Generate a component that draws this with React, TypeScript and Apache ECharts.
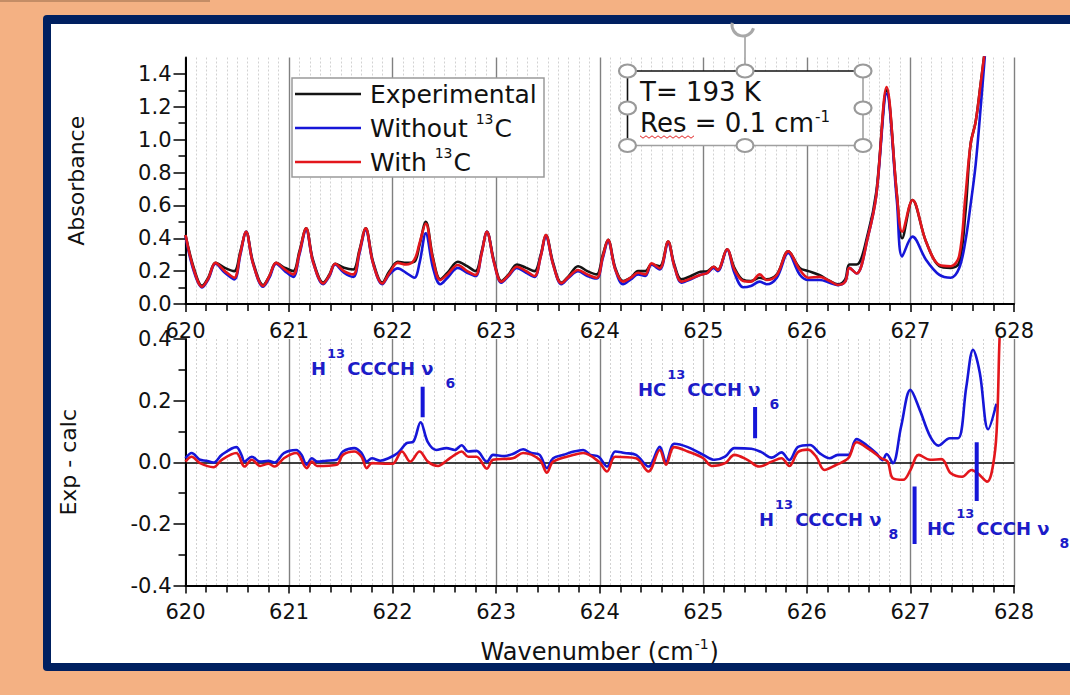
import React, { useEffect, useRef } from "react";
import * as echarts from "echarts";

const FONT = "'DejaVu Sans', 'Liberation Sans', sans-serif";
const BLACK = "#141414";
const BLUE = "#1616d8";
const RED = "#e3161c";
const ANN = "#1c1cc8";

// ---- top panel: absorbance spectra (wavenumber grid shared by the 3 traces)
const topX = [
  620.0, 620.08, 620.16, 620.22, 620.29, 620.38, 620.47, 620.53, 620.585, 620.65,
  620.75, 620.81, 620.875, 620.96, 621.04, 621.1, 621.165, 621.23, 621.33, 621.39,
  621.445, 621.53, 621.62, 621.68, 621.74, 621.81, 621.9, 621.97, 622.05, 622.13,
  622.21, 622.26, 622.32, 622.39, 622.46, 622.53, 622.63, 622.72, 622.8, 622.86,
  622.91, 622.98, 623.05, 623.12, 623.2, 623.29, 623.37, 623.43, 623.48, 623.55,
  623.63, 623.7, 623.79, 623.88, 623.97, 624.03, 624.08, 624.15, 624.225, 624.3,
  624.37, 624.44, 624.5, 624.58, 624.66, 624.72, 624.79, 624.88, 624.97, 625.04,
  625.1, 625.14, 625.23, 625.3, 625.385, 625.46, 625.545, 625.61, 625.71, 625.82,
  625.93, 626.015, 626.125, 626.22, 626.3, 626.37, 626.41, 626.48, 626.59, 626.67,
  626.77, 626.87, 626.92, 627.02, 627.15, 627.28, 627.39, 627.47, 627.53, 627.58,
  627.63, 627.68, 627.73,
];
const experimental = [
  0.42, 0.22, 0.11, 0.16, 0.25, 0.22, 0.2, 0.32, 0.44, 0.26,
  0.115, 0.17, 0.25, 0.22, 0.2, 0.32, 0.46, 0.27, 0.13, 0.18,
  0.245, 0.22, 0.21, 0.33, 0.46, 0.26, 0.13, 0.2, 0.257, 0.25,
  0.257, 0.36, 0.5, 0.28, 0.15, 0.19, 0.257, 0.23, 0.2, 0.32,
  0.44, 0.26, 0.14, 0.18, 0.24, 0.22, 0.2, 0.3, 0.42, 0.25,
  0.13, 0.17, 0.23, 0.2, 0.18, 0.3, 0.39, 0.22, 0.14, 0.16,
  0.2, 0.2, 0.24, 0.23, 0.38, 0.24, 0.15, 0.17, 0.196, 0.2,
  0.227, 0.207, 0.333, 0.22, 0.146, 0.14, 0.16, 0.15, 0.18, 0.32,
  0.22, 0.2, 0.175, 0.14, 0.12, 0.15, 0.24, 0.24, 0.43, 0.68,
  1.3, 0.66, 0.4, 0.633, 0.38, 0.23, 0.22, 0.25, 0.55, 0.97,
  1.11, 1.35, 1.6,
];
const without13C = [
  0.41, 0.2, 0.1, 0.15, 0.245, 0.19, 0.15, 0.3, 0.44, 0.25,
  0.105, 0.16, 0.245, 0.2, 0.165, 0.3, 0.45, 0.26, 0.12, 0.17,
  0.24, 0.19, 0.165, 0.31, 0.45, 0.25, 0.12, 0.18, 0.217, 0.19,
  0.16, 0.25, 0.43, 0.22, 0.12, 0.16, 0.22, 0.19, 0.17, 0.31,
  0.44, 0.25, 0.13, 0.17, 0.22, 0.19, 0.165, 0.29, 0.41, 0.24,
  0.12, 0.16, 0.2, 0.17, 0.155, 0.28, 0.38, 0.21, 0.12, 0.15,
  0.18, 0.17, 0.24, 0.21, 0.37, 0.23, 0.13, 0.15, 0.177, 0.19,
  0.22, 0.2, 0.33, 0.19, 0.102, 0.11, 0.136, 0.12, 0.16, 0.31,
  0.18, 0.146, 0.146, 0.13, 0.115, 0.136, 0.22, 0.186, 0.41, 0.66,
  1.28, 0.62, 0.29, 0.41, 0.27, 0.177, 0.16, 0.217, 0.38, 0.6,
  0.85, 1.21, 1.6,
];
const with13C = [
  0.42, 0.21, 0.105, 0.155, 0.25, 0.2, 0.16, 0.31, 0.44, 0.25,
  0.11, 0.17, 0.25, 0.21, 0.18, 0.31, 0.46, 0.26, 0.125, 0.175,
  0.245, 0.2, 0.18, 0.32, 0.46, 0.25, 0.125, 0.19, 0.25, 0.24,
  0.27, 0.37, 0.49, 0.27, 0.145, 0.18, 0.237, 0.2, 0.177, 0.31,
  0.44, 0.25, 0.135, 0.175, 0.227, 0.2, 0.17, 0.29, 0.42, 0.24,
  0.126, 0.165, 0.207, 0.18, 0.16, 0.29, 0.39, 0.21, 0.136, 0.16,
  0.19, 0.18, 0.247, 0.217, 0.38, 0.23, 0.136, 0.155, 0.177, 0.19,
  0.227, 0.207, 0.333, 0.21, 0.14, 0.136, 0.18, 0.146, 0.177, 0.32,
  0.21, 0.16, 0.165, 0.14, 0.116, 0.136, 0.22, 0.186, 0.41, 0.66,
  1.32, 0.66, 0.44, 0.633, 0.38, 0.237, 0.23, 0.29, 0.65, 0.97,
  1.11, 1.35, 1.6,
];

// ---- bottom panel: residuals (exp - calc) as [wavenumber, value]
const residualWithout: [number, number][] = [
  [620.0, 0.013], [620.06, 0.03], [620.14, 0.008], [620.2, 0.005], [620.27, -0.001],
  [620.35, 0.024], [620.49, 0.049], [620.54, 0.024], [620.57, 0.002], [620.64, 0.018],
  [620.72, 0.002], [620.8, 0.005], [620.86, -0.001], [620.95, 0.03], [621.07, 0.04],
  [621.12, 0.024], [621.17, -0.008], [621.22, 0.013], [621.27, 0.002], [621.36, 0.005],
  [621.46, 0.008], [621.52, 0.035], [621.63, 0.046], [621.7, 0.03], [621.75, 0.002],
  [621.8, 0.013], [621.88, 0.005], [621.96, 0.013], [622.05, 0.03], [622.135, 0.062],
  [622.2, 0.067], [622.27, 0.13], [622.34, 0.065], [622.42, 0.04], [622.52, 0.046],
  [622.6, 0.04], [622.666, 0.055], [622.73, 0.035], [622.81, 0.037], [622.91, 0.002],
  [622.97, 0.024], [623.08, 0.02], [623.16, 0.027], [623.26, 0.042], [623.34, 0.03],
  [623.42, 0.024], [623.49, -0.019], [623.55, 0.013], [623.65, 0.024], [623.75, 0.035],
  [623.84, 0.04], [623.91, 0.024], [623.99, 0.018], [624.07, -0.014], [624.15, 0.035],
  [624.24, 0.03], [624.35, 0.024], [624.47, -0.014], [624.58, 0.05], [624.64, 0.002],
  [624.72, 0.06], [624.85, 0.049], [625.0, 0.024], [625.11, 0.008], [625.21, 0.018],
  [625.3, 0.046], [625.465, 0.044], [625.56, 0.033], [625.66, 0.015], [625.755, 0.032],
  [625.83, 0.007], [625.915, 0.05], [626.03, 0.056], [626.125, 0.029], [626.22, 0.013],
  [626.3, 0.024], [626.4, 0.024], [626.48, 0.075], [626.575, 0.056], [626.67, 0.029],
  [626.73, 0.007], [626.77, 0.027], [626.83, -0.003], [626.91, 0.116], [627.0, 0.235],
  [627.09, 0.17], [627.19, 0.084], [627.27, 0.054], [627.38, 0.078], [627.46, 0.078],
  [627.54, 0.246], [627.605, 0.365], [627.67, 0.29], [627.75, 0.107], [627.83, 0.19],
];
const residualWith: [number, number][] = [
  [620.0, 0.002], [620.06, 0.018], [620.14, -0.003], [620.27, -0.016], [620.35, 0.008],
  [620.49, 0.03], [620.57, -0.014], [620.64, 0.008], [620.72, -0.012], [620.8, -0.005],
  [620.86, -0.014], [620.95, 0.013], [621.07, 0.03], [621.17, -0.019], [621.22, 0.002],
  [621.27, -0.012], [621.46, -0.008], [621.52, 0.024], [621.63, 0.035], [621.7, 0.018],
  [621.75, -0.019], [621.8, -0.003], [621.96, -0.005], [622.0, -0.005], [622.09, 0.035],
  [622.17, 0.002], [622.26, 0.035], [622.34, 0.002], [622.44, -0.012], [622.52, 0.005],
  [622.6, 0.024], [622.666, 0.035], [622.73, 0.018], [622.81, 0.018], [622.91, -0.021],
  [622.97, 0.008], [623.16, 0.013], [623.26, 0.03], [623.42, 0.008], [623.49, -0.034],
  [623.55, 0.002], [623.75, 0.024], [623.84, 0.03], [623.99, 0.002], [624.07, -0.03],
  [624.15, 0.018], [624.35, 0.013], [624.47, -0.03], [624.58, 0.04], [624.64, -0.008],
  [624.72, 0.049], [624.85, 0.035], [625.0, 0.013], [625.08, -0.012], [625.21, -0.003],
  [625.3, 0.024], [625.43, 0.007], [625.54, -0.014], [625.66, 0.002], [625.755, 0.013],
  [625.83, -0.012], [625.915, 0.033], [626.01, 0.041], [626.09, 0.018], [626.17, -0.025],
  [626.28, -0.009], [626.4, 0.013], [626.48, 0.065], [626.61, 0.04], [626.72, 0.013],
  [626.78, 0.002], [626.83, -0.052], [626.93, -0.057], [627.0, -0.025], [627.08, 0.024],
  [627.19, 0.008], [627.3, 0.01], [627.39, -0.036], [627.5, -0.047], [627.59, -0.025],
  [627.65, -0.036], [627.74, -0.063], [627.81, 0.018], [627.84, 0.159], [627.86, 0.397],
  [627.88, 0.5],
];

// ---- assignment markers (vertical bars in the residual panel)
const markerX = [622.29, 625.5, 627.04, 627.64];
const markerTop = [0.245, 0.179, -0.079, 0.065];
const markerBottom = [0.146, 0.078, -0.265, -0.126];
const markerLabels: [string, string, string, string][] = [
  ["H", "13", "CCCCH ν", "6"],
  ["HC", "13", "CCCH ν", "6"],
  ["H", "13", "CCCCH ν", "8"],
  ["HC", "13", "CCCH ν", "8"],
];

// ---- axis ticks / legend
const xMin = 620;
const xMax = 628;
const absTicks = [0, 0.2, 0.4, 0.6, 0.8, 1.0, 1.2, 1.4];
const seriesNames = ["Experimental", "Without 13C", "With 13C"];
const seriesColors = [BLACK, BLUE, RED];

const pairs = (xs: number[], ys: number[]) => xs.map((x, i) => [x, ys[i]]);

function buildOption() {
  const tickStyle = { color: "#000", width: 1.5 };
  const labelX = { fontSize: 21, color: "#111", fontFamily: FONT };
  const xLabelAxis = (gridIndex: number, extra: any = {}) => ({
    type: "value",
    gridIndex,
    min: xMin,
    max: xMax,
    interval: 1,
    position: "bottom",
    axisLine: { show: true, onZero: false, lineStyle: { color: "#000", width: 2 } },
    axisTick: { show: true, length: 8, lineStyle: tickStyle },
    minorTick: { show: true, splitNumber: 5, length: 7, lineStyle: tickStyle },
    axisLabel: { ...labelX, margin: 16 },
    splitLine: { show: false },
    minorSplitLine: { show: false },
    ...extra,
  });
  const xGridAxis = (gridIndex: number) => ({
    type: "value",
    gridIndex,
    min: xMin,
    max: xMax,
    interval: 1,
    position: "top",
    axisLine: { show: false },
    axisTick: { show: false },
    axisLabel: { show: false },
    minorTick: { show: false, splitNumber: 10 },
    splitLine: { show: true, lineStyle: { color: "#808080", width: 1.4 } },
    minorSplitLine: { show: true, lineStyle: { color: "#d2d2d2", width: 1, type: [2, 2] } },
  });
  const yAxisBase = (gridIndex: number, min: number, max: number, ticks: number[] | null, name: string, nameGap: number) => ({
    type: "value",
    gridIndex,
    min,
    max,
    interval: 0.2,
    axisLine: { show: true, onZero: false, lineStyle: { color: "#000", width: 2 } },
    axisTick: ticks ? { show: true, length: 12, lineStyle: tickStyle, customValues: ticks } : { show: true, length: 12, lineStyle: tickStyle },
    minorTick: { show: true, splitNumber: 2, length: 7, lineStyle: tickStyle },
    axisLabel: ticks
      ? { ...labelX, margin: 14, customValues: ticks, formatter: (v: number) => v.toFixed(1) }
      : { ...labelX, margin: 14, formatter: (v: number) => v.toFixed(1) },
    splitLine: { show: false },
    name,
    nameLocation: "middle",
    nameGap,
    nameTextStyle: { fontSize: 22, color: "#111", fontFamily: FONT },
  });

  const line = (name: string, data: any[], color: string, xi: number, yi: number, z: number) => ({
    type: "line",
    name,
    xAxisIndex: xi,
    yAxisIndex: yi,
    data,
    symbol: "none",
    showSymbol: false,
    smooth: 0.35,
    clip: true,
    silent: true,
    z,
    lineStyle: { color, width: 2.6 },
    itemStyle: { color },
  });

  const series: any[] = [
    line(seriesNames[0], pairs(topX, experimental), BLACK, 0, 0, 3),
    line(seriesNames[1], pairs(topX, without13C), BLUE, 0, 0, 4),
    line(seriesNames[2], pairs(topX, with13C), RED, 0, 0, 5),
    {
      ...line("Residual without 13C", residualWithout, BLUE, 2, 1, 4),
      markLine: {
        silent: true,
        symbol: ["none", "none"],
        label: { show: false },
        lineStyle: { color: "#000", type: "solid", width: 1.5 },
        data: [{ yAxis: 0 }],
        z: 2,
      },
    },
    line("Residual with 13C", residualWith, RED, 2, 1, 5),
  ];
  markerX.forEach((x, i) => {
    series.push({
      type: "line",
      name: "marker" + i,
      xAxisIndex: 2,
      yAxisIndex: 1,
      data: [
        [x, markerTop[i]],
        [x, markerBottom[i]],
      ],
      symbol: "none",
      silent: true,
      z: 6,
      lineStyle: { color: BLUE, width: 4 },
      itemStyle: { color: BLUE },
    });
  });

  // annotation labels (rich text with super/subscripts)
  const annPos = [
    { x: 311, y: 368, gap: 12 },
    { x: 638, y: 389, gap: 9 },
    { x: 759, y: 519, gap: 7 },
    { x: 927, y: 528, gap: 10 },
  ];
  const annRich = (gap: number) => ({
    a: { fontSize: 18, fontWeight: "bold", fontFamily: FONT, fill: ANN, lineHeight: 18 },
    s: { fontSize: 13, fontWeight: "bold", fontFamily: FONT, fill: ANN, lineHeight: 18, padding: [0, 2, 30, 1] },
    b: { fontSize: 14, fontWeight: "bold", fontFamily: FONT, fill: ANN, lineHeight: 18, padding: [29, 0, 0, gap] },
  });
  const annotations = markerLabels.map((p, i) => ({
    type: "text",
    x: annPos[i].x,
    y: annPos[i].y,
    z: 50,
    silent: true,
    style: {
      text: `{a|${p[0]}}{s|${p[1]}}{a|${p[2]}}{b|${p[3]}}`,
      align: "left",
      verticalAlign: "middle",
      rich: annRich(annPos[i].gap),
    },
  }));

  // legend box drawn as graphic (lines + rich text with superscripts)
  const legY = [94, 128, 162];
  const legend: any[] = [
    { type: "rect", z: 70, silent: true, shape: { x: 292, y: 78, width: 252, height: 99 }, style: { fill: "#fff", stroke: "#9a9a9a", lineWidth: 1.5 } },
  ];
  seriesNames.forEach((n, i) => {
    legend.push({ type: "line", z: 71, silent: true, shape: { x1: 295, y1: legY[i], x2: 361, y2: legY[i] }, style: { stroke: seriesColors[i], lineWidth: 2.6 } });
    legend.push({
      type: "text", z: 72, silent: true, x: 370, y: legY[i],
      style: {
        text: n.replace("13", "{s|13}"),
        fontSize: 25, lineHeight: 25, fontFamily: FONT, fill: "#111", align: "left", verticalAlign: "middle",
        rich: { s: { fontSize: 14, lineHeight: 25, fontFamily: FONT, fill: "#111", padding: [0, 1, 18, 0] } },
      },
    });
  });

  // text box with selection handles
  const bl = 627.5, br = 863, bt = 71, bb = 145.5, bmx = 745, bmy = 108;
  const handle = (cx: number, cy: number) => ({
    type: "ellipse",
    z: 62,
    silent: true,
    shape: { cx, cy, rx: 8.5, ry: 6.5 },
    style: { fill: "#fff", stroke: "#9a9a9a", lineWidth: 2.2 },
  });
  const wave: number[][] = [];
  for (let i = 0; i <= 18; i++) wave.push([640 + i * 3, 137 + (i % 2 === 0 ? -1.2 : 1.2)]);

  const textBox = [
    { type: "rect", z: 60, silent: true, shape: { x: bl, y: bt, width: br - bl, height: bb - bt }, style: { fill: "#fff" } },
    { type: "line", z: 61, silent: true, shape: { x1: bl, y1: bt, x2: br, y2: bt }, style: { stroke: "#111", lineWidth: 1.6 } },
    { type: "line", z: 61, silent: true, shape: { x1: bl, y1: bt + 6, x2: bl, y2: bb - 6 }, style: { stroke: "#111", lineWidth: 1.6 } },
    { type: "line", z: 61, silent: true, shape: { x1: br, y1: bt, x2: br, y2: bb }, style: { stroke: "#a0a0a0", lineWidth: 1.6 } },
    { type: "line", z: 61, silent: true, shape: { x1: bl, y1: bb, x2: br, y2: bb }, style: { stroke: "#a0a0a0", lineWidth: 1.6 } },
    { type: "line", z: 61, silent: true, shape: { x1: bmx, y1: bt - 6, x2: bmx, y2: 36 }, style: { stroke: "#a0a0a0", lineWidth: 1.6 } },
    { type: "arc", z: 61, silent: true, shape: { cx: 743, cy: 25, r: 11, startAngle: 0.3, endAngle: Math.PI + 0.2, clockwise: true }, style: { stroke: "#a8a8a8", lineWidth: 3, fill: "none" } },
    handle(bl, bt), handle(bmx, bt), handle(br, bt),
    handle(bl, bmy), handle(br, bmy),
    handle(bl, bb), handle(bmx, bb), handle(br, bb),
    {
      type: "text", z: 63, silent: true, x: 640, y: 92,
      style: { text: "T= 193 K", fontSize: 26, fontFamily: FONT, fill: "#111", align: "left", verticalAlign: "middle" },
    },
    {
      type: "text", z: 63, silent: true, x: 640, y: 123,
      style: {
        text: "Res = 0.1 cm{s|-1}",
        fontSize: 26, lineHeight: 26, fontFamily: FONT, fill: "#111", align: "left", verticalAlign: "middle",
        rich: { s: { fontSize: 15, fontFamily: FONT, fill: "#111", lineHeight: 26, padding: [0, 0, 12, 1] } },
      },
    },
    { type: "polyline", z: 63, silent: true, shape: { points: wave }, style: { stroke: "#e02020", lineWidth: 1, fill: "none" } },
  ];

  return {
    animation: false,
    backgroundColor: "transparent",
    grid: [
      { left: 185.5, top: 57.5, width: 828.5, height: 246.5, containLabel: false, outerBoundsMode: "none" },
      { left: 185.5, top: 339, width: 828.5, height: 246.5, containLabel: false, outerBoundsMode: "none" },
    ],
    xAxis: [
      xLabelAxis(0),
      xGridAxis(0),
      xLabelAxis(1, {
        name: "Wavenumber (cm{s|-1})",
        nameLocation: "middle",
        nameGap: 54,
        nameTextStyle: {
          fontSize: 24,
          lineHeight: 24,
          color: "#111",
          fontFamily: FONT,
          rich: { s: { fontSize: 14, lineHeight: 24, color: "#111", fontFamily: FONT, padding: [0, 1, 16, 1] } },
        },
      }),
      xGridAxis(1),
    ],
    yAxis: [
      yAxisBase(0, 0, 1.5, absTicks, "Absorbance", 98),
      yAxisBase(1, -0.4, 0.4, null, "Exp - calc", 106),
    ],
    series,
    graphic: { elements: [...annotations, ...legend, ...textBox] },
  };
}

export default function App() {
  const ref = useRef<HTMLDivElement>(null);
  useEffect(() => {
    if (!ref.current) return;
    const chart = echarts.init(ref.current, null, { renderer: "svg" });
    chart.setOption(buildOption() as any);
    return () => chart.dispose();
  }, []);
  return (
    <div style={{ position: "fixed", left: 0, top: 0, width: 1070, height: 695, background: "#F4B183", overflow: "hidden" }}>
      <div style={{ position: "absolute", left: 0, top: 0, width: 210, height: 2, background: "#c48d66" }} />
      <div style={{ position: "absolute", left: 43, top: 15, width: 1100, height: 656, background: "#002060", borderRadius: 4 }} />
      <div style={{ position: "absolute", left: 51, top: 24, width: 1100, height: 639, background: "#ffffff" }} />
      <div ref={ref} style={{ position: "absolute", left: 0, top: 0, width: 1070, height: 695 }} />
    </div>
  );
}
